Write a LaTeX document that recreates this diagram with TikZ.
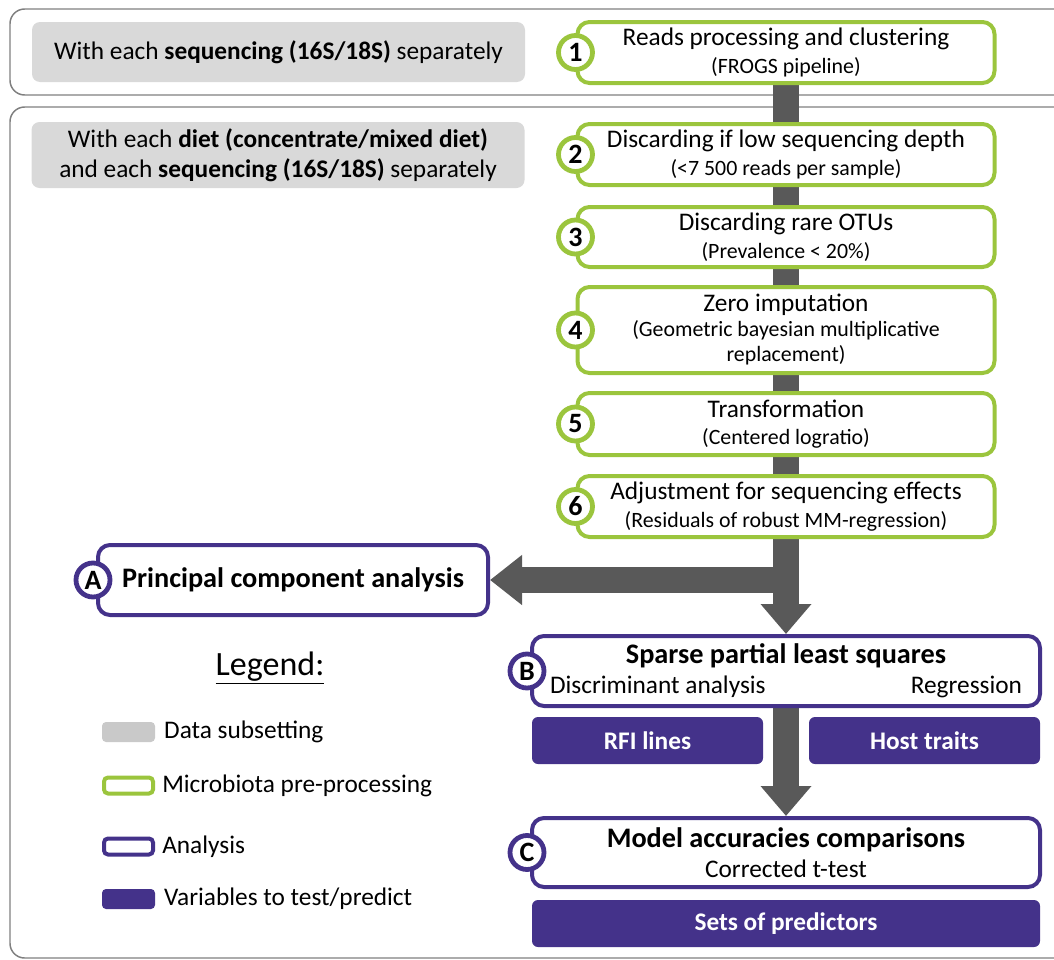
\documentclass[tikz,border=0pt]{standalone}
\usepackage{fontspec}
\setmainfont{Carlito}
\usetikzlibrary{arrows.meta}
\usetikzlibrary{positioning}
\usetikzlibrary{backgrounds}
\definecolor{frogsgreen}{RGB}{155,197,61}
\definecolor{anapurple}{RGB}{68,50,138}
\definecolor{arrowgray}{RGB}{89,89,89}
\definecolor{subsetgray}{RGB}{217,217,217}
\definecolor{legendgray}{RGB}{201,201,201}
\definecolor{framegray}{RGB}{127,127,127}
\newcommand{\mainsz}{\fontsize{19}{22.5}\selectfont}
\newcommand{\smallsz}{\fontsize{16.4}{18.8}\selectfont}
\newcommand{\titlesz}{\fontsize{21.2}{24}\selectfont}

\begin{document}
\begin{tikzpicture}[x=0.75pt, y=-0.75pt,
    subset/.style={fill=subsetgray, rounded corners=6pt, minimum width=369.75pt, align=center, font=\mainsz},
    prep/.style={draw=frogsgreen, line width=3pt, fill=white, rounded corners=9pt, minimum width=312.75pt, minimum height=45.75pt, align=center, font=\mainsz, inner sep=1pt},
    stepnum/.style={circle, draw=#1, line width=3.6pt, fill=white, minimum size=25.5pt, inner sep=0pt, font=\fontsize{21}{24}\selectfont\bfseries},
    ana/.style={draw=anapurple, line width=3pt, fill=white, rounded corners=9pt, minimum width=381pt, minimum height=52.5pt, align=center, font=\mainsz},
    var/.style={fill=anapurple, text=white, rounded corners=4.5pt, minimum height=35.25pt, font=\mainsz\bfseries},
    bigarrow/.style={draw=arrowgray, line width=19.5pt, -{Triangle[width=36.75pt, length=22.5pt]}},
    swatch/.style={minimum width=39.75pt, minimum height=15pt, rounded corners=3pt, inner sep=0pt},
    legtext/.style={anchor=west, font=\mainsz, inner sep=0pt}]
  \useasboundingbox (0,0) rectangle (1054,960);

  % data subsetting
  \node [subset, minimum height=45pt] (sub1) at (278.5,52) {With each \textbf{sequencing (16S/18S)} separately};
  \node [subset, minimum height=49.5pt] (sub2) at (278,155) {With each \textbf{diet (concentrate/mixed diet)}\\and each \textbf{sequencing (16S/18S)} separately};

  % pre-processing steps
  \node [prep] (p1) at (786,52.5) {Reads processing and clustering\\[-1.75pt]{\smallsz (FROGS pipeline)}};
  \node [prep] (p2) at (786,154.5) {Discarding if low sequencing depth\\[-1.75pt]{\smallsz (<7 500 reads per sample)}};
  \node [prep, minimum height=45pt] (p3) at (786,237) {Discarding rare OTUs\\[-1.75pt]{\smallsz (Prevalence < 20\%)}};
  \node [prep, minimum height=64.5pt] (p4) at (786,330) {Zero imputation\\[-3.75pt]{\smallsz (Geometric bayesian multiplicative}\\[-3.75pt]{\smallsz replacement)}};
  \node [prep, minimum height=46.5pt] (p5) at (786,424) {Transformation\\[-1.75pt]{\smallsz (Centered logratio)}};
  \node [prep] (p6) at (786,506.5) {Adjustment for sequencing effects\\[-1.75pt]{\smallsz (Residuals of robust MM-regression)}};
  \foreach \i in {1,...,6}
    \node [stepnum=frogsgreen] (n\i) at (p\i.west) {\i};

  % analyses
  \node [ana, minimum width=292.5pt, font=\titlesz\bfseries] (pca) at (293,580) {Principal component analysis};
  \node [ana] (spls) at (786,671) {{\titlesz\bfseries Sparse partial least squares}\\\makebox[354pt]{Discriminant analysis\hfill Regression}};
  \node [var, minimum width=173.25pt] (rfi) at (647.5,740.5) {RFI lines};
  \node [var, minimum width=173.25pt] (host) at (924.5,740.5) {Host traits};
  \node [ana, minimum height=51.75pt] (acc) at (786,852.5) {{\titlesz\bfseries Model accuracies comparisons}\\Corrected t-test};
  \node [var, minimum width=381pt] (sets) at (786,923.5) {Sets of predictors};
  \node [stepnum=anapurple, xshift=-2.25pt] (na) at (pca.west) {A};
  \node [stepnum=anapurple, xshift=-2.25pt] (nb) at (spls.west) {B};
  \node [stepnum=anapurple, xshift=-2.25pt] (nc) at (acc.west) {C};

  % legend
  \node [font=\fontsize{25.5}{30}\selectfont] (leg) at (270,668) {\underline{Legend:}};
  \node [swatch, fill=legendgray] (s1) at (128.5,732) {};
  \node [swatch, draw=frogsgreen, line width=3pt, minimum width=36.75pt, minimum height=12pt] (s2) at (128.5,785.5) {};
  \node [swatch, draw=anapurple, line width=3pt, minimum width=36.75pt, minimum height=12pt] (s3) at (128.5,846.5) {};
  \node [swatch, fill=anapurple] (s4) at (128.5,899) {};
  \node [legtext, right=6.5pt of s1] (l1) {Data subsetting};
  \node [legtext, right=5.25pt of s2] (l2) {Microbiota pre-processing};
  \node [legtext, right=5.25pt of s3] (l3) {Analysis};
  \node [legtext, right=6.5pt of s4] (l4) {Variables to test/predict};

  \begin{scope}[on background layer]
    \draw [framegray, line width=1.1pt, rounded corners=11pt] (10,9) rectangle (1075,95);
    \draw [framegray, line width=1.1pt, rounded corners=11pt] (10,107) rectangle (1075,958);
    \draw [bigarrow] (p1.south) -- (spls.north);
    \draw [bigarrow, -{Triangle[width=36pt, length=24pt]}] (pca.east -| p6.south) -- (pca.east);
    \draw [bigarrow] (spls.south) -- (acc.north);
  \end{scope}
\end{tikzpicture}
\end{document}
